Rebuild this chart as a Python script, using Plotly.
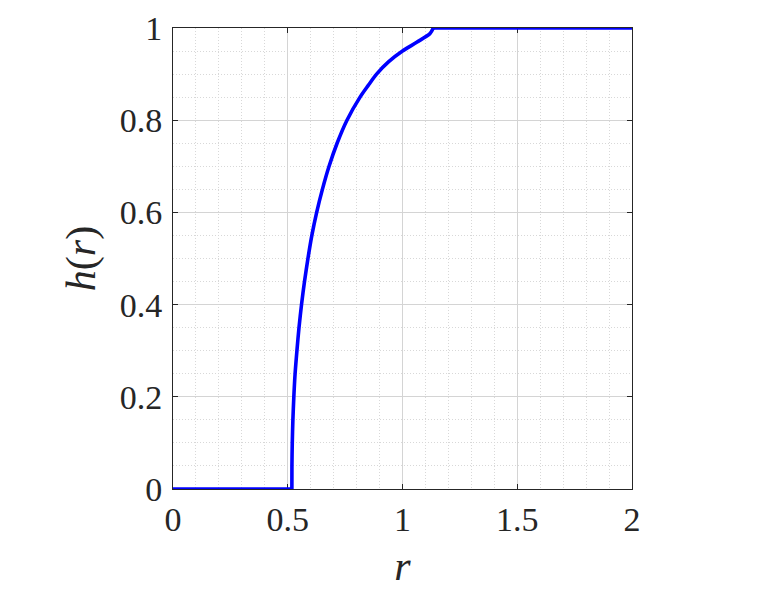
import plotly.graph_objects as go

r_vals = [0, 0.518, 0.5182, 0.5197, 0.5224, 0.5265, 0.532, 0.540, 0.549, 0.560,
          0.573, 0.588, 0.605, 0.626, 0.651, 0.680, 0.715, 0.758, 0.815, 0.850,
          0.887, 0.940, 1.0, 1.062, 1.12, 1.134, 2.0]
h_vals = [0, 0, 0.05, 0.10, 0.15, 0.20, 0.25, 0.30, 0.35, 0.40,
          0.45, 0.50, 0.55, 0.60, 0.65, 0.70, 0.75, 0.80, 0.85, 0.875,
          0.90, 0.927, 0.95, 0.969, 0.988, 1.0, 1.0]

x_tickvals = [0, 0.5, 1, 1.5, 2]
x_ticktext = ["0", "0.5", "1", "1.5", "2"]
y_tickvals = [0, 0.2, 0.4, 0.6, 0.8, 1]
y_ticktext = ["0", "0.2", "0.4", "0.6", "0.8", "1"]

FONT = "Liberation Serif"
AX = "#262626"
GRID = "#d4d4d4"
MINOR = "#d8d8d8"

# split indices: flat bottom, rising curve, flat top
i0 = 1                      # last flat-bottom point
i1 = len(r_vals) - 2        # first flat-top point

fig = go.Figure()
line = dict(color="#0000ff", width=3.6)
fig.add_trace(go.Scatter(x=r_vals[:i0 + 1], y=h_vals[:i0 + 1], mode="lines",
                         line=line, showlegend=False, hoverinfo="skip"))
fig.add_trace(go.Scatter(x=r_vals[i0:i1 + 1], y=h_vals[i0:i1 + 1], mode="lines",
                         line=dict(line, shape="spline", smoothing=0.8),
                         showlegend=False, hoverinfo="skip"))
fig.add_trace(go.Scatter(x=r_vals[i1:], y=h_vals[i1:], mode="lines",
                         line=line, showlegend=False, hoverinfo="skip"))

axis_common = dict(
    showline=True, linecolor=AX, linewidth=1, mirror="ticks",
    ticks="inside", ticklen=5, tickcolor=AX, tickwidth=1,
    showgrid=True, gridcolor=GRID, gridwidth=1,
    zeroline=False, layer="below traces", automargin=False,
    tickfont=dict(family=FONT, size=34, color=AX),
)

fig.update_xaxes(range=[0, 2], tickvals=x_tickvals, ticktext=x_ticktext,
                 ticklabelstandoff=0,
                 minor=dict(dtick=0.1, tick0=0, showgrid=True, gridcolor=MINOR,
                            griddash="1px,2px", gridwidth=1, ticks=""),
                 title=dict(text="<i>r</i>", font=dict(family=FONT, size=42, color=AX),
                            standoff=13),
                 **axis_common)
fig.update_yaxes(range=[0, 1], tickvals=y_tickvals, ticktext=y_ticktext,
                 ticklabelstandoff=3,
                 minor=dict(dtick=0.05, tick0=0, showgrid=True, gridcolor=MINOR,
                            griddash="1px,2px", gridwidth=1, ticks=""),
                 title=dict(text="<i>h</i>(<i>r</i>)", font=dict(family=FONT, size=42, color=AX),
                            standoff=11),
                 **axis_common)

fig.update_layout(
    width=780, height=600,
    margin=dict(l=165, r=156, t=20, b=119),
    paper_bgcolor="white", plot_bgcolor="white",
)

fig.write_html("out.html")
